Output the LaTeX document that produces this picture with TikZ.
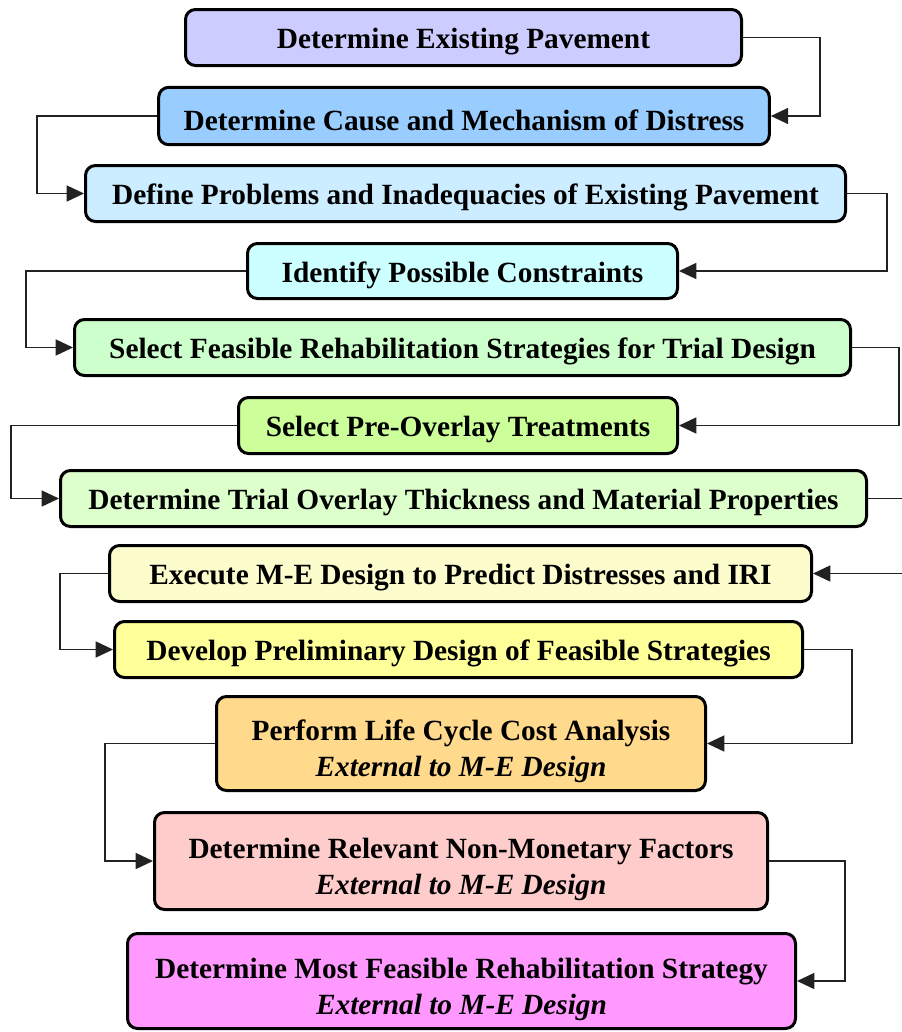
\documentclass[tikz,border=0pt]{standalone}
\usepackage{fontspec}
\setmainfont{Liberation Serif}
\usetikzlibrary{arrows.meta}
\definecolor{c1}{HTML}{CCCCFF}
\definecolor{c2}{HTML}{99CCFF}
\definecolor{c3}{HTML}{CCECFF}
\definecolor{c4}{HTML}{CCFFFF}
\definecolor{c5}{HTML}{CCFFCC}
\definecolor{c6}{HTML}{CCFF99}
\definecolor{c7}{HTML}{DDFFCC}
\definecolor{c8}{HTML}{FCFCCC}
\definecolor{c9}{HTML}{FFFF99}
\definecolor{c10}{HTML}{FFD98C}
\definecolor{c11}{HTML}{FFCCCC}
\definecolor{c12}{HTML}{FF99FF}
\definecolor{linec}{HTML}{222222}
\tikzset{
  box/.style={draw=black, line width=2.25pt, rounded corners=7.5pt, inner sep=0pt},
  boxtext/.style={font=\fontsize{22}{27}\selectfont\bfseries, align=center, inner sep=0pt, yshift=-3pt},
  boxtextb/.style={boxtext, yshift=-3pt},
  conn/.style={draw=linec, line width=1.2pt, -{Triangle[length=13pt,width=12pt]}}
}
\begin{document}
\begin{tikzpicture}[x=0.75pt,y=-0.75pt]
\useasboundingbox (0,0) rectangle (902,1032);
\clip (0,0) rectangle (902,1032);
\node[box,fill=c1,minimum width=417pt,minimum height=42pt,label={[boxtext]center:Determine Existing Pavement}] (b1) at (463.5,37.5) {};
\node[box,fill=c2,minimum width=458pt,minimum height=43pt,label={[boxtext]center:Determine Cause and Mechanism of Distress}] (b2) at (464,116) {};
\node[box,fill=c3,minimum width=570pt,minimum height=42pt,label={[boxtext]center:Define Problems and Inadequacies of Existing Pavement}] (b3) at (465.5,193.5) {};
\node[box,fill=c4,minimum width=322.5pt,minimum height=41.25pt,label={[boxtext]center:Identify Possible Constraints}] (b4) at (462.5,271) {};
\node[box,fill=c5,minimum width=582pt,minimum height=42pt,label={[boxtext]center:Select Feasible Rehabilitation Strategies for Trial Design}] (b5) at (462.5,347.5) {};
\node[box,fill=c6,minimum width=329.25pt,minimum height=42pt,label={[boxtext]center:Select Pre-Overlay Treatments}] (b6) at (458,425.5) {};
\node[box,fill=c7,minimum width=604.5pt,minimum height=42pt,label={[boxtext]center:Determine Trial Overlay Thickness and Material Properties}] (b7) at (463.5,498.5) {};
\node[box,fill=c8,minimum width=526.5pt,minimum height=42pt,label={[boxtext]center:Execute M-E Design to Predict Distresses and IRI}] (b8) at (460.5,573.5) {};
\node[box,fill=c9,minimum width=516pt,minimum height=42pt,label={[boxtext]center:Develop Preliminary Design of Feasible Strategies}] (b9) at (458.5,649.5) {};
\node[box,fill=c10,minimum width=366.75pt,minimum height=70.5pt,label={[boxtextb]center:{Perform Life Cycle Cost Analysis\\\textit{External to M-E Design}}}] (b10) at (461,743.5) {};
\node[box,fill=c11,minimum width=459.75pt,minimum height=72.75pt,label={[boxtextb]center:{Determine Relevant Non-Monetary Factors\\\textit{External to M-E Design}}}] (b11) at (461,861) {};
\node[box,fill=c12,minimum width=501pt,minimum height=71.25pt,label={[boxtextb]center:{Determine Most Feasible Rehabilitation Strategy\\\textit{External to M-E Design}}}] (b12) at (461.5,981) {};
\draw[conn] (b1.east) -- (820,37.5) |- (b2.east);
\draw[conn] (b2.west) -- (37,116) |- (b3.west);
\draw[conn] (b3.east) -- (887,193.5) |- (b4.east);
\draw[conn] (b4.west) -- (26,271) |- (b5.west);
\draw[conn] (b5.east) -- (899,347.5) |- (b6.east);
\draw[conn] (b6.west) -- (11,425.5) |- (b7.west);
\draw[conn] (b7.east) -- (915,498.5) |- (b8.east);
\draw[conn] (b8.west) -- (60,573.5) |- (b9.west);
\draw[conn] (b9.east) -- (852,649.5) |- (b10.east);
\draw[conn] (b10.west) -- (105,743.5) |- (b11.west);
\draw[conn] (b11.east) -- (845,861) |- (b12.east);
\end{tikzpicture}
\end{document}
